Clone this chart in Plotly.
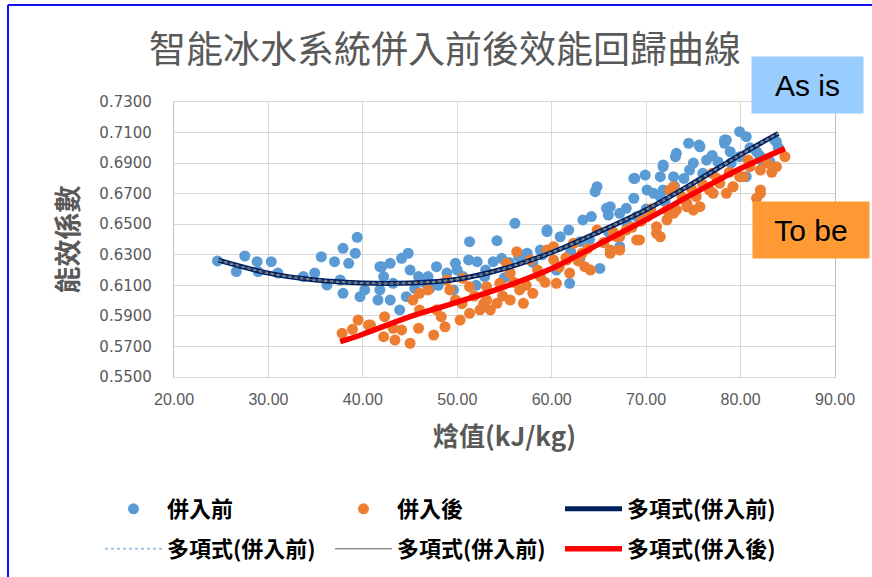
import plotly.graph_objects as go

# ---------------- data ----------------
before_x = [24.6, 26.6, 27.5, 28.8, 28.9, 30.3, 31.0, 33.7, 34.9, 35.6, 36.2, 37.0, 37.6, 37.9, 37.9,
            38.5, 39.2, 39.4, 39.7, 40.2, 41.6, 41.8, 41.8, 42.0, 42.2, 42.9, 42.9, 43.2, 43.9, 44.1,
            44.6, 44.8, 45.0, 45.5, 45.9, 46.5, 46.9, 47.1, 47.8, 48.0, 48.9, 49.6, 49.8, 50.0, 50.6,
            51.2, 51.3, 52.0, 52.1, 52.9, 53.0, 53.8, 54.2, 54.7, 55.0, 55.5, 56.1, 56.5, 57.0, 57.4,
            58.0, 58.8, 59.0, 59.5, 60.5, 60.9, 61.8, 61.9, 62.0, 63.0, 63.0, 63.3, 64.0, 64.2, 64.6,
            64.8, 65.1, 65.8, 66.0, 66.0, 67.2, 67.2, 67.9, 68.0, 68.7, 68.8, 69.0, 69.9, 70.0, 70.1,
            70.8, 71.5, 71.8, 71.8, 71.8, 72.0, 72.9, 73.0, 73.1, 73.2, 74.0, 74.5, 74.6, 75.0, 75.6,
            76.0, 76.4, 77.0, 77.6, 78.3, 78.3, 78.9, 79.0, 79.9, 79.9, 80.6, 80.6, 81.0, 81.7, 82.0,
            82.4, 83.1, 83.6, 84.0, 59.5, 66.2, 68.7, 71.5, 75.7, 78.5, 83.8]
before_y = [0.6260, 0.6190, 0.6292, 0.6255, 0.6190, 0.6255, 0.6180, 0.6157, 0.6180, 0.6287, 0.6102, 0.6255, 0.6135, 0.6342, 0.6048,
            0.6244, 0.6310, 0.6414, 0.6026, 0.6070, 0.6004, 0.6222, 0.6070, 0.6222, 0.6157, 0.6244, 0.6004, 0.6113, 0.5939, 0.6277,
            0.6026, 0.6310, 0.6200, 0.6080, 0.6157, 0.6120, 0.6157, 0.6081, 0.6222, 0.6100, 0.6180, 0.6070, 0.6244, 0.6200, 0.6157,
            0.6266, 0.6386, 0.6100, 0.6255, 0.6157, 0.6200, 0.6255, 0.6392, 0.6277, 0.6150, 0.6250, 0.6506, 0.6287, 0.6299, 0.6310,
            0.6250, 0.6331, 0.6300, 0.6462, 0.6200, 0.6418, 0.6462, 0.6113, 0.6320, 0.6386, 0.6280, 0.6528, 0.6400, 0.6550, 0.6713,
            0.6746, 0.6211, 0.6604, 0.6560, 0.6450, 0.6571, 0.6353, 0.6604, 0.6500, 0.6670, 0.6800, 0.6550, 0.6822, 0.6600, 0.6724,
            0.6702, 0.6680, 0.6888, 0.6877, 0.6724, 0.6650, 0.6811, 0.6750, 0.6942, 0.6964, 0.6800, 0.7030, 0.6855, 0.6900, 0.7018,
            0.6833, 0.6920, 0.6950, 0.6909, 0.7051, 0.7030, 0.6975, 0.6900, 0.7106, 0.6942, 0.7073, 0.6811, 0.7000, 0.6975, 0.6950,
            0.6898, 0.6909, 0.7050, 0.7000, 0.6451, 0.6615, 0.6800, 0.6811, 0.7007, 0.7051, 0.7040]

after_x = [37.8, 38.9, 39.5, 40.6, 40.8, 42.2, 42.3, 43.2, 43.4, 44.1, 45.0, 45.3, 45.9, 46.0, 46.0,
           46.9, 47.5, 47.8, 48.3, 48.7, 48.9, 49.2, 49.8, 50.3, 50.5, 50.6, 51.3, 51.3, 51.8, 52.4,
           52.8, 53.1, 53.1, 53.5, 54.2, 54.5, 54.8, 55.2, 55.6, 55.6, 56.0, 56.3, 56.6, 57.0, 57.3,
           57.7, 58.0, 58.5, 58.8, 59.3, 59.5, 60.2, 60.5, 60.8, 61.5, 61.9, 62.3, 62.8, 63.2, 63.8,
           64.1, 64.8, 65.5, 66.2, 66.5, 67.2, 67.2, 67.9, 68.5, 69.0, 69.5, 70.1, 70.5, 71.1, 71.5,
           72.2, 72.2, 72.5, 72.9, 73.2, 73.8, 74.3, 74.8, 75.0, 75.3, 76.0, 76.7, 77.0, 77.5, 77.8,
           78.5, 78.8, 79.2, 79.9, 80.3, 80.8, 81.0, 81.7, 82.1, 82.1, 82.8, 83.3, 83.8, 84.7,
           60.2, 61.6, 63.5, 66.2, 66.9, 69.3, 71.1, 72.9, 74.3, 75.7, 77.1, 79.2, 82.1]
after_y = [0.5786, 0.5812, 0.5873, 0.5840, 0.5840, 0.5764, 0.5895, 0.5819, 0.5742, 0.5808, 0.5721, 0.6004, 0.5819, 0.6048, 0.5939,
           0.6070, 0.5775, 0.5940, 0.5895, 0.5829, 0.6135, 0.6070, 0.6004, 0.5873, 0.5980, 0.6146, 0.6091, 0.5917, 0.6030, 0.5940,
           0.5980, 0.6091, 0.6004, 0.5939, 0.5982, 0.6113, 0.6030, 0.6244, 0.6180, 0.6004, 0.6120, 0.6320, 0.6070, 0.5982, 0.6100,
           0.6266, 0.6048, 0.6200, 0.6157, 0.6120, 0.6331, 0.6266, 0.6113, 0.6220, 0.6280, 0.6180, 0.6375, 0.6260, 0.6310, 0.6340,
           0.6200, 0.6462, 0.6380, 0.6331, 0.6450, 0.6418, 0.6331, 0.6462, 0.6480, 0.6397, 0.6520, 0.6550, 0.6600, 0.6484, 0.6418,
           0.6593, 0.6528, 0.6724, 0.6746, 0.6593, 0.6680, 0.6637, 0.6730, 0.6593, 0.6680, 0.6760, 0.6724, 0.6833, 0.6800, 0.6768,
           0.6702, 0.6840, 0.6746, 0.6811, 0.6811, 0.6920, 0.6877, 0.6670, 0.6855, 0.6724, 0.6900, 0.6840, 0.6877, 0.6942,
           0.6353, 0.6266, 0.6222, 0.6310, 0.6418, 0.6397, 0.6441, 0.6571, 0.6615, 0.6615, 0.6702, 0.6746, 0.6702]

# polynomial trendlines
trend_before_x = [24.7, 30, 35, 40, 45, 50, 55, 60, 65, 70, 75, 80, 84]
trend_before_y = [0.6265, 0.6180, 0.6135, 0.6115, 0.6115, 0.6140, 0.6210, 0.6315, 0.6450, 0.6595, 0.6770, 0.6955, 0.7095]
trend_after_x = [37.6, 40, 45, 50, 55, 60, 65, 70, 75, 80, 84.7]
trend_after_y = [0.5731, 0.5780, 0.5895, 0.5990, 0.6090, 0.6210, 0.6370, 0.6530, 0.6700, 0.6865, 0.6995]

title_text = "智能冰水系統併入前後效能回歸曲線"
x_title = "焓值(kJ/kg)"
y_title = "能效係數"
name_before = "併入前"
name_after = "併入後"
name_fit_before = "多項式(併入前)"
name_fit_after = "多項式(併入後)"

CJK = "Noto Sans CJK TC"

fig = go.Figure()
fig.add_trace(go.Scatter(x=before_x, y=before_y, mode="markers", name=name_before, legend="legend",
                         marker=dict(color="#5b9bd5", size=11)))
fig.add_trace(go.Scatter(x=after_x, y=after_y, mode="markers", name=name_after, legend="legend",
                         marker=dict(color="#ed7d31", size=11)))
fig.add_trace(go.Scatter(x=trend_before_x, y=trend_before_y, mode="lines", name=name_fit_before,
                         legend="legend", line=dict(color="#002060", width=5, shape="spline")))
fig.add_trace(go.Scatter(x=trend_before_x, y=trend_before_y, mode="lines", name=name_fit_before,
                         legend="legend2", line=dict(color="#9dc3e6", width=2, dash="dot", shape="spline")))
fig.add_trace(go.Scatter(x=trend_before_x, y=trend_before_y, mode="lines", name=name_fit_before,
                         legend="legend2", line=dict(color="#595959", width=1, shape="spline")))
fig.add_trace(go.Scatter(x=trend_after_x, y=trend_after_y, mode="lines", name=name_fit_after,
                         legend="legend2", line=dict(color="#ff0000", width=5.5, shape="spline")))

L, R, T, B = 174, 37, 102, 200
W, H = 872, 577
pw, ph = W - L - R, H - T - B

def px(xp):
    return (xp - L) / pw

def py(yp):
    return (H - B - yp) / ph

legend_common = dict(orientation="h", xanchor="left", yanchor="middle",
                     font=dict(family=CJK, size=22, color="#000000", weight="bold"),
                     itemwidth=57, entrywidth=158, entrywidthmode="pixels",
                     bgcolor="rgba(0,0,0,0)", tracegroupgap=0)

fig.update_layout(
    width=W, height=H,
    margin=dict(l=L, r=R, t=T, b=B, autoexpand=False),
    plot_bgcolor="white", paper_bgcolor="white",
    showlegend=True,
    title=dict(text=title_text, x=445 / W, xref="container", xanchor="center",
               y=1 - 50 / H, yref="container", yanchor="middle",
               font=dict(family=CJK, size=37, color="#595959")),
    xaxis=dict(range=[20, 90], tick0=20, dtick=10, tickformat=".2f",
               showgrid=True, gridcolor="#d9d9d9", gridwidth=1.3, zeroline=False,
               showline=True, linecolor="#d9d9d9", linewidth=1.3, mirror=True,
               ticks="", ticklabelstandoff=8,
               tickfont=dict(family="Liberation Sans", size=16, color="#595959"),
               title=dict(text=x_title, standoff=20,
                          font=dict(family=CJK, size=26, color="#595959", weight="bold"))),
    yaxis=dict(range=[0.55, 0.73], tick0=0.55, dtick=0.02, tickformat=".4f",
               showgrid=True, gridcolor="#d9d9d9", gridwidth=1.3, zeroline=False,
               showline=True, linecolor="#bfbfbf", linewidth=1.3, mirror=True,
               ticks="", ticklabelstandoff=18,
               tickfont=dict(family="DejaVu Sans", size=15, color="#595959"),
               title=dict(text=y_title, standoff=12,
                          font=dict(family=CJK, size=27, color="#595959", weight="bold"))),
    legend=dict(x=px(100), y=py(509), **legend_common),
    legend2=dict(x=px(100), y=py(549), **legend_common),
    annotations=[
        dict(text="As is", xref="paper", yref="paper", x=px(807.5), y=py(85),
             xanchor="center", yanchor="middle", showarrow=False,
             bgcolor="#99ccff", width=111, height=56, borderpad=0,
             font=dict(family="Liberation Sans", size=30, color="#000000")),
        dict(text="To be", xref="paper", yref="paper", x=px(811), y=py(230),
             xanchor="center", yanchor="middle", showarrow=False,
             bgcolor="#ff9933", width=116, height=56, borderpad=0,
             font=dict(family="Liberation Sans", size=30, color="#000000")),
    ],
    shapes=[
        dict(type="line", xref="paper", yref="paper", x0=px(8), x1=px(872), y0=py(5), y1=py(5),
             line=dict(color="#1010ee", width=2)),
        dict(type="line", xref="paper", yref="paper", x0=px(8), x1=px(8), y0=py(5), y1=py(577),
             line=dict(color="#1010ee", width=2)),
    ],
)

fig.write_html("out.html", config={"displayModeBar": False},
               post_script="document.body.style.margin='0';document.body.style.padding='0';")
